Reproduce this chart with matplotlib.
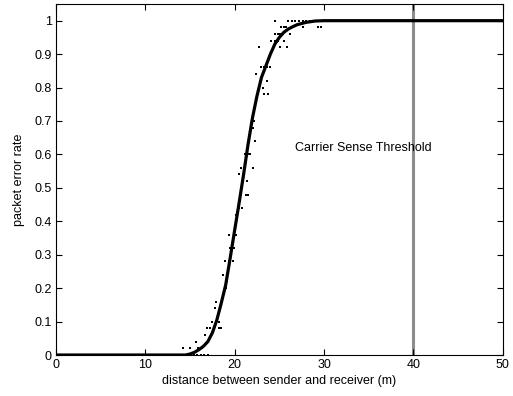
import matplotlib
matplotlib.use("Agg")
import matplotlib.pyplot as plt
from matplotlib.ticker import FuncFormatter

plt.rcParams["font.family"] = ["Liberation Sans", "DejaVu Sans"]

# fitted curve
curve_x = [0, 14.5, 15, 15.5, 16, 16.5, 17, 17.5, 18, 18.5, 19, 19.5, 20, 20.5,
           21, 21.5, 22, 22.5, 23, 23.5, 24, 24.5, 25, 25.5, 26, 26.5, 27, 28,
           29, 30, 50]
curve_y = [0, 0.0, 0.003, 0.008, 0.016, 0.026, 0.040, 0.066, 0.104, 0.155, 0.21,
           0.29, 0.373, 0.455, 0.54, 0.63, 0.71, 0.775, 0.83, 0.865, 0.90, 0.93,
           0.95, 0.965, 0.975, 0.982, 0.988, 0.995, 0.999, 1.0, 1.0]

# measured points
pt_x = [24.5, 26.0, 26.4, 26.8, 27.2, 27.6, 28.0, 28.4, 28.8, 29.2, 29.6, 30, 35, 45,
        25.2, 25.5, 25.8, 27.7, 29.3, 29.7,
        24.5, 24.8, 25.1, 26.2,
        24.1, 24.5, 24.9, 25.5,
        22.7, 25.1, 25.9,
        23.0, 23.3, 23.6, 24.0,
        22.4,
        22.9, 23.6,
        23.2,
        22.6, 23.3, 23.7,
        21.9, 22.2,
        22.1,
        22.3,
        21.2, 21.5, 21.7,
        20.7, 22.0,
        20.5,
        21.4,
        21.3, 21.5,
        20.5, 20.8,
        20.1, 20.3,
        19.4, 20.1,
        19.5, 19.9,
        18.9, 19.4, 19.8,
        18.7,
        19.2,
        19.0,
        17.9,
        17.8,
        17.5, 18.2,
        16.9, 17.2, 18.3, 18.5,
        16.7,
        15.7, 16.9,
        14.2, 15.0, 15.9, 16.3,
        15.4, 15.8, 16.2, 16.6, 17.0, 5, 10]
pt_y = [1.0] * 14 + \
       [0.98] * 6 + \
       [0.96] * 4 + \
       [0.94] * 4 + \
       [0.92] * 3 + \
       [0.86] * 4 + \
       [0.84] + \
       [0.82] * 2 + \
       [0.80] + \
       [0.78] * 3 + \
       [0.70] * 2 + \
       [0.68] + \
       [0.64] + \
       [0.60] * 3 + \
       [0.56] * 2 + \
       [0.54] + \
       [0.52] + \
       [0.48] * 2 + \
       [0.44] * 2 + \
       [0.42] * 2 + \
       [0.36] * 2 + \
       [0.32] * 2 + \
       [0.28] * 3 + \
       [0.24] + \
       [0.22] + \
       [0.20] + \
       [0.16] + \
       [0.14] + \
       [0.10] * 2 + \
       [0.08] * 4 + \
       [0.06] + \
       [0.04] * 2 + \
       [0.02] * 4 + \
       [0.0] * 7

threshold_x = 40

fig = plt.figure(figsize=(5.13, 3.96), dpi=100)
ax = fig.add_axes([0.109, 0.1035, 0.871, 0.8865])

ax.axvline(threshold_x, color="#8c8c8c", lw=2.2, zorder=1)
ax.plot(pt_x, pt_y, "s", color="black", ms=1.7, mew=0, zorder=2)
ax.plot(curve_x, curve_y, color="black", lw=2.3, zorder=3)
ax.text(26.7, 0.62, "Carrier Sense Threshold", fontsize=9, va="center", zorder=4)

ax.set_xlim(0, 50)
ax.set_ylim(0, 1.05)
ax.set_xticks(range(0, 51, 10))
ax.set_yticks([i / 10 for i in range(11)])
ax.yaxis.set_major_formatter(FuncFormatter(lambda v, p: f"{v:g}"))
ax.tick_params(direction="in", top=True, right=True, length=4, width=0.8,
               labelsize=9, pad=3)
for s in ax.spines.values():
    s.set_linewidth(0.8)

ax.set_xlabel("distance between sender and receiver (m)", fontsize=9, labelpad=3)
ax.set_ylabel("packet error rate", fontsize=9, labelpad=7)

fig.savefig("out.png", dpi=100)
